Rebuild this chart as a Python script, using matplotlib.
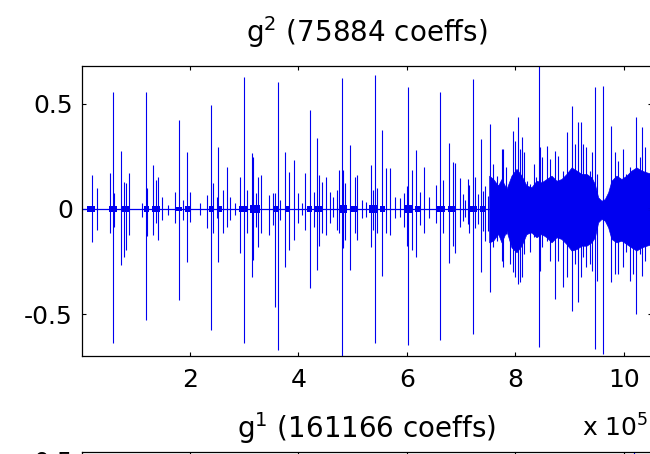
import numpy as np
import matplotlib
matplotlib.use('Agg')
import matplotlib.pyplot as plt

# g^2 coefficients (x in units of 1e5)
spike_x = [0.187, 0.280, 0.525, 0.575, 0.599, 0.728, 0.790, 0.820, 0.882, 1.109,
           1.183, 1.214, 1.312, 1.373, 1.416, 1.478, 1.601, 1.724, 1.797, 1.877,
           1.939, 2.000, 2.184, 2.307, 2.381, 2.418, 2.491, 2.522, 2.602, 2.688,
           2.737, 2.830, 2.922, 3.002, 3.045, 3.137, 3.168, 3.211, 3.248, 3.303,
           3.457, 3.536, 3.567, 3.616, 3.659, 3.751, 3.831, 3.917, 3.997, 4.059,
           4.120, 4.212, 4.286, 4.335, 4.384, 4.427, 4.501, 4.581, 4.643, 4.716,
           4.753, 4.796, 4.827, 4.857, 4.950, 5.042, 5.084, 5.164, 5.244, 5.330,
           5.367, 5.409, 5.453, 5.533, 5.613, 5.686, 5.779, 5.871, 5.945, 5.994,
           6.025, 6.086, 6.160, 6.240, 6.314, 6.412, 6.535, 6.608, 6.670, 6.768,
           6.842, 6.885, 6.977, 7.039, 7.069, 7.131, 7.149, 7.223, 7.254, 7.315,
           7.358, 7.395, 7.438, 7.499, 7.542, 7.591, 7.653, 7.745, 7.776, 7.837,
           7.899, 7.960, 7.991, 8.053, 8.083, 8.114, 8.163, 8.206, 8.267, 8.341,
           8.390, 8.433, 8.452, 8.495, 8.587, 8.636, 8.728, 8.790, 8.882, 8.956,
           9.036, 9.097, 9.159, 9.202, 9.251, 9.312, 9.374, 9.417, 9.466, 9.497,
           9.620, 9.762, 9.834, 9.896, 9.988, 10.049, 10.111, 10.172, 10.221, 10.295,
           10.344, 10.387]
spike_hi = [0.161, 0.098, 0.169, 0.556, 0.074, 0.276, 0.130, 0.122, 0.169, 0.027,
            0.556, 0.098, 0.209, 0.137, 0.153, 0.059, 0.019, 0.082, 0.422, 0.043,
            0.272, 0.082, 0.027, 0.066, 0.493, 0.122, 0.059, 0.292, 0.090, 0.201,
            0.059, 0.027, 0.153, 0.626, 0.090, 0.264, 0.248, 0.074, 0.153, 0.161,
            0.066, 0.074, 0.074, 0.604, 0.043, 0.272, 0.177, 0.232, 0.074, 0.027,
            0.169, 0.469, 0.082, 0.335, 0.161, 0.130, 0.153, 0.082, 0.059, 0.090,
            0.185, 0.619, 0.185, 0.122, 0.305, 0.153, 0.161, 0.043, 0.035, 0.209,
            0.090, 0.635, 0.098, 0.375, 0.193, 0.193, 0.059, 0.051, 0.074, 0.107,
            0.580, 0.185, 0.280, 0.082, 0.201, 0.059, 0.114, 0.556, 0.138, 0.311,
            0.225, 0.217, 0.145, 0.071, 0.043, 0.142, 0.114, 0.616, 0.153, 0.071,
            0.332, 0.087, 0.111, 0.063, 0.403, 0.213, 0.158, 0.284, 0.284, 0.197,
            0.118, 0.371, 0.324, 0.434, 0.284, 0.340, 0.269, 0.134, 0.118, 0.213,
            0.150, 0.678, 0.292, 0.245, 0.300, 0.237, 0.276, 0.253, 0.182, 0.363,
            0.490, 0.308, 0.411, 0.411, 0.308, 0.292, 0.182, 0.269, 0.577, 0.166,
            0.585, 0.395, 0.269, 0.229, 0.284, 0.166, 0.197, 0.174, 0.434, 0.245,
            0.387, 0.292]
spike_lo = [-0.155, -0.100, -0.115, -0.637, -0.084, -0.265, -0.226, -0.196, -0.123, -0.036,
            -0.526, -0.130, -0.123, -0.068, -0.147, -0.052, -0.028, -0.068, -0.431, -0.052,
            -0.251, -0.060, -0.028, -0.092, -0.574, -0.115, -0.044, -0.251, -0.115, -0.084,
            -0.052, -0.028, -0.210, -0.637, -0.115, -0.321, -0.242, -0.084, -0.178, -0.115,
            -0.123, -0.076, -0.463, -0.668, -0.052, -0.273, -0.193, -0.147, -0.068, -0.028,
            -0.099, -0.376, -0.084, -0.288, -0.177, -0.115, -0.123, -0.068, -0.036, -0.099,
            -0.115, -0.697, -0.185, -0.145, -0.288, -0.115, -0.145, -0.044, -0.036, -0.178,
            -0.099, -0.635, -0.115, -0.320, -0.115, -0.123, -0.044, -0.036, -0.084, -0.177,
            -0.643, -0.193, -0.226, -0.076, -0.115, -0.044, -0.068, -0.620, -0.115, -0.256,
            -0.177, -0.210, -0.084, -0.055, -0.036, -0.071, -0.115, -0.592, -0.090, -0.071,
            -0.300, -0.103, -0.150, -0.103, -0.395, -0.182, -0.150, -0.245, -0.276, -0.118,
            -0.261, -0.300, -0.324, -0.355, -0.348, -0.324, -0.213, -0.118, -0.205, -0.134,
            -0.126, -0.656, -0.292, -0.182, -0.150, -0.245, -0.427, -0.245, -0.371, -0.324,
            -0.482, -0.261, -0.442, -0.324, -0.229, -0.276, -0.261, -0.292, -0.664, -0.340,
            -0.687, -0.348, -0.308, -0.308, -0.276, -0.205, -0.340, -0.308, -0.498, -0.213,
            -0.316, -0.245]

# envelope of the dense part on the right
band_x = [7.518, 7.591, 7.683, 7.745, 7.837, 7.929, 8.022, 8.114, 8.206, 8.298,
          8.390, 8.482, 8.575, 8.667, 8.759, 8.851, 8.943, 9.036, 9.128, 9.220,
          9.312, 9.404, 9.466, 9.527, 9.589, 9.650, 9.712, 9.773, 9.865, 9.957,
          10.049, 10.141, 10.233, 10.326, 10.418, 10.520]
band_hi = [0.158, 0.142, 0.111, 0.142, 0.095, 0.158, 0.190, 0.158, 0.111, 0.103,
           0.134, 0.126, 0.142, 0.158, 0.134, 0.142, 0.166, 0.197, 0.182, 0.166,
           0.166, 0.150, 0.118, 0.055, 0.039, 0.047, 0.079, 0.134, 0.158, 0.142,
           0.158, 0.182, 0.197, 0.182, 0.174, 0.166]
band_lo = [-0.158, -0.150, -0.118, -0.158, -0.103, -0.182, -0.205, -0.174, -0.118, -0.111,
           -0.134, -0.118, -0.134, -0.158, -0.134, -0.142, -0.166, -0.197, -0.190, -0.174,
           -0.174, -0.158, -0.134, -0.063, -0.047, -0.055, -0.087, -0.142, -0.158, -0.150,
           -0.166, -0.182, -0.197, -0.182, -0.174, -0.166]

# small cores of the bursts in the sparse part
core_x0 = [0.10, 0.50, 0.75, 1.15, 1.30, 1.75, 1.90, 2.35, 2.50, 2.90, 3.10, 3.55,
           3.75, 4.15, 4.30, 4.75, 4.95, 5.30, 5.50, 5.95, 6.15, 6.55, 6.75, 7.15, 7.35]
core_x1 = [0.25, 0.65, 0.90, 1.25, 1.45, 1.85, 2.00, 2.45, 2.60, 3.05, 3.30, 3.65,
           3.85, 4.25, 4.45, 4.90, 5.10, 5.45, 5.60, 6.10, 6.25, 6.70, 6.90, 7.30, 7.45]
core_amp = [0.015, 0.015, 0.012, 0.012, 0.015, 0.010, 0.012, 0.012, 0.012, 0.015, 0.018, 0.012,
            0.015, 0.012, 0.015, 0.020, 0.015, 0.018, 0.015, 0.018, 0.015, 0.015, 0.015, 0.015, 0.012]

baseline_x = [0.0, 10.52]
baseline_y = [0.0, 0.0]

# g^1, only its top edge shows
g1_x = [10.19]
g1_hi = [0.55]
g1_lo = [-0.5]

xticks = [2, 4, 6, 8, 10]
yticks = [-0.5, 0, 0.5]
blue = '#0000f0'

plt.rcParams['font.family'] = 'DejaVu Sans'

fig = plt.figure(figsize=(6.5, 4.54), dpi=100)


def style(ax, ylim, xlabels, ylabels):
    ax.set_xlim(0.01, 10.52)
    ax.set_ylim(*ylim)
    ax.set_xticks(xticks)
    ax.set_yticks(yticks)
    ax.set_xticklabels(xlabels)
    ax.set_yticklabels(ylabels)
    ax.tick_params(direction='in', length=3, width=0.8, labelsize=18,
                   top=True, right=True)
    ax.tick_params(axis='x', pad=8.5)
    ax.tick_params(axis='y', pad=6.5)
    for s in ax.spines.values():
        s.set_linewidth(0.9)


ax = fig.add_axes([82 / 650, 98 / 454, 570 / 650, 290 / 454])
ax.plot(baseline_x, baseline_y, color=blue, lw=0.9)
for a, b, h in zip(core_x0, core_x1, core_amp):
    ax.fill_between([a, b], [-h, -h], [h, h], color=blue, lw=0)
ax.fill_between(band_x, band_lo, band_hi, color=blue, lw=0.5)
ax.vlines(spike_x, spike_lo, spike_hi, color=blue, lw=0.8)
style(ax, (-0.697, 0.678), [str(t) for t in xticks], ['-0.5', '0', '0.5'])
ax.set_title(r'g$^2$ (75884 coeffs)', fontsize=20, pad=17)

# lower panel: only its top strip is inside the picture
ax2 = fig.add_axes([82 / 650, -288 / 454, 570 / 650, 290 / 454])
ax2.vlines(g1_x, g1_lo, g1_hi, color=blue, lw=0.8)
style(ax2, (-0.836, 0.538), ['' for t in xticks], ['', '', '0.5'])
ax2.set_title(r'g$^1$ (161166 coeffs)', fontsize=20, pad=10)

fig.text(648 / 650, 1 - 437 / 454, r'x 10$^5$', fontsize=18,
         ha='right', va='baseline')

fig.savefig('out.png', dpi=100)
